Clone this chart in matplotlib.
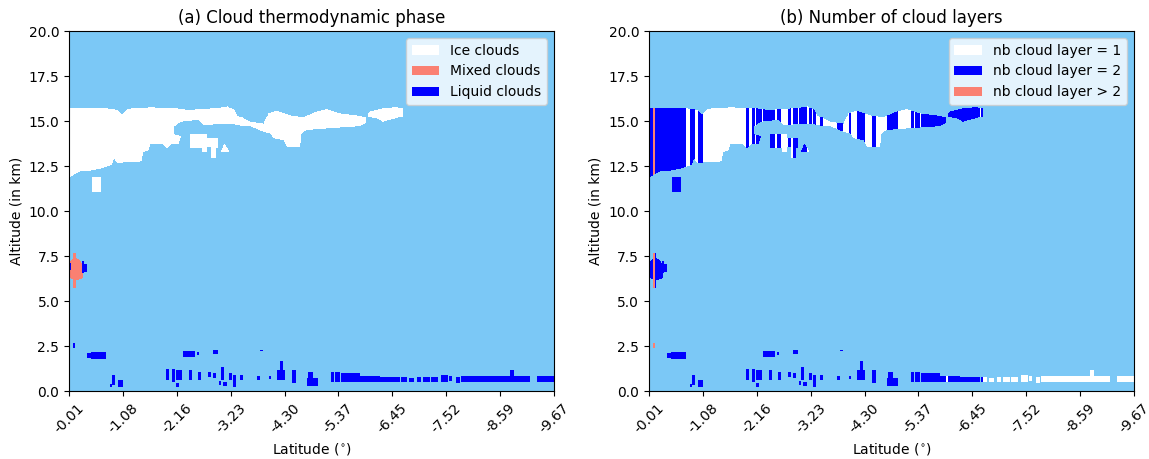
import numpy as np
import matplotlib
matplotlib.use("Agg")
from matplotlib import pyplot as plt
from matplotlib.path import Path
from matplotlib.colors import ListedColormap
from matplotlib.patches import Patch

# tick labels
lat_labels = ["-0.01", "-1.08", "-2.16", "-3.23", "-4.30",
              "-5.37", "-6.45", "-7.52", "-8.59", "-9.67"]
lat_start, lat_end = -0.01, -9.67

# ice cloud outlines, (latitude, altitude km)
ice_main = [(-0.03, 15.71), (-0.57, 15.76), (-0.97, 15.61), (-1.07, 15.39), (-1.17, 15.65),
            (-1.64, 15.79), (-2.10, 15.71), (-2.37, 15.61), (-2.76, 15.65), (-3.16, 15.83),
            (-3.30, 15.61), (-3.35, 15.33), (-3.62, 14.96), (-3.88, 14.87), (-3.98, 15.43),
            (-4.15, 15.57), (-4.41, 15.33), (-4.68, 15.24), (-4.94, 15.52), (-5.14, 15.65),
            (-5.41, 15.43), (-5.74, 15.33), (-5.93, 15.24),
            (-5.93, 14.90), (-5.74, 14.68), (-5.21, 14.59), (-4.74, 14.50), (-4.64, 14.32),
            (-4.61, 13.57), (-4.35, 13.57), (-4.28, 13.94), (-4.08, 14.04), (-4.01, 14.32),
            (-3.88, 14.41), (-3.62, 14.68), (-3.22, 14.87), (-3.03, 14.87), (-2.70, 14.78),
            (-2.57, 15.06), (-2.24, 14.96), (-2.10, 14.68), (-2.10, 14.32), (-2.25, 14.13),
            (-2.20, 13.76), (-2.04, 13.67), (-1.97, 13.48), (-1.90, 13.67), (-1.65, 13.76),
            (-1.60, 13.39), (-1.50, 13.29), (-1.46, 12.80), (-1.40, 12.74), (-0.97, 12.65),
            (-0.91, 12.93), (-0.87, 12.56), (-0.64, 12.37), (-0.24, 12.18), (-0.03, 11.91)]
ice_east = [(-5.97, 15.40), (-6.01, 15.52), (-6.20, 15.65), (-6.47, 15.79), (-6.67, 15.76),
            (-6.68, 15.24), (-6.54, 15.15), (-6.40, 15.06), (-6.27, 14.96), (-6.14, 15.15),
            (-5.97, 15.20)]
ice_blob_a = [(-2.43, 14.32), (-2.74, 14.32), (-2.74, 13.29), (-2.64, 13.29),
              (-2.64, 13.48), (-2.43, 13.48)]
ice_blob_b = [(-2.76, 14.04), (-2.96, 14.04), (-2.96, 13.48), (-2.92, 13.48),
              (-2.92, 12.93), (-2.83, 12.93), (-2.83, 13.57), (-2.76, 13.57)]
ice_blob_c = [(-3.02, 13.29), (-3.10, 13.76), (-3.20, 13.29)]
ice_blob_d = [(-0.47, 11.07), (-0.47, 11.91), (-0.64, 11.91), (-0.64, 11.07)]

mixed_cloud = [(-0.03, 7.20), (-0.09, 7.39), (-0.10, 7.67), (-0.14, 7.67), (-0.15, 7.39),
               (-0.22, 7.30), (-0.28, 7.00), (-0.28, 6.30), (-0.20, 6.17), (-0.15, 6.17),
               (-0.14, 5.72), (-0.10, 5.72), (-0.09, 6.17), (-0.03, 6.30)]

# liquid cloud pieces: (lat left, lat right, base km, top km)
liquid_boxes = [
    (-0.02, -0.05, 6.70, 7.10), (-0.27, -0.31, 6.54, 7.24), (-0.31, -0.37, 6.59, 7.06),
    (-0.08, -0.13, 2.40, 2.65), (-0.37, -0.45, 1.85, 2.10), (-0.45, -0.74, 1.78, 2.15),
    (-0.83, -0.87, 0.22, 0.40), (-0.88, -0.92, 0.35, 0.89), (-0.99, -1.09, 0.25, 0.60),
    (-2.30, -2.50, 1.90, 2.22), (-2.55, -2.59, 2.00, 2.17), (-2.86, -2.97, 2.05, 2.28),
    (-3.82, -3.86, 2.18, 2.32),
    (-1.95, -2.01, 0.61, 1.26), (-2.08, -2.12, 0.52, 1.26), (-2.14, -2.28, 0.61, 1.15),
    (-2.16, -2.20, 0.22, 0.44), (-2.40, -2.45, 0.61, 1.17), (-2.58, -2.63, 0.61, 1.07),
    (-2.77, -2.83, 0.79, 1.07), (-2.87, -2.93, 0.70, 0.98), (-2.98, -3.03, 0.33, 0.56),
    (-3.03, -3.08, 0.61, 1.35), (-3.08, -3.14, 0.29, 0.52), (-3.20, -3.24, 0.61, 1.00),
    (-3.27, -3.33, 0.24, 0.89), (-3.40, -3.46, 0.61, 0.89), (-3.75, -3.81, 0.61, 0.85),
    (-3.98, -4.03, 0.67, 0.85), (-4.16, -4.31, 0.61, 1.17), (-4.22, -4.27, 1.17, 1.63),
    (-4.46, -4.52, 0.43, 1.17), (-4.77, -4.87, 0.72, 1.06), (-4.75, -4.96, 0.30, 0.72),
    (-5.24, -5.29, 0.50, 1.05), (-5.31, -5.41, 0.50, 1.07), (-5.43, -5.50, 0.50, 1.02),
    (-5.52, -5.81, 0.48, 0.98), (-5.81, -6.20, 0.48, 0.87), (-6.20, -6.60, 0.50, 0.82),
    (-6.64, -6.74, 0.52, 0.78), (-6.80, -6.88, 0.52, 0.76), (-6.94, -7.02, 0.52, 0.78),
    (-7.08, -7.20, 0.50, 0.80), (-7.24, -7.34, 0.52, 0.80), (-7.42, -7.54, 0.48, 0.92),
    (-7.58, -7.64, 0.55, 0.85), (-7.70, -7.78, 0.45, 0.78), (-7.82, -8.80, 0.48, 0.85),
    (-8.80, -8.86, 0.48, 1.17), (-8.86, -9.19, 0.48, 0.85), (-9.33, -9.67, 0.50, 0.83),
]

sky = '#7bc8f6'

# rasterise onto a profile x altitude grid
lat_edges = np.linspace(lat_start, lat_end, 484)
alt_edges = np.linspace(0, 20, 401)
lat_c = (lat_edges[:-1] + lat_edges[1:]) / 2
alt_c = (alt_edges[:-1] + alt_edges[1:]) / 2
LAT, ALT = np.meshgrid(lat_c, alt_c)
pts = np.column_stack([LAT.ravel(), ALT.ravel()])

phase = np.zeros(LAT.shape, dtype=int)  # 0 clear, 1 ice, 2 mixed, 3 liquid


def paint_poly(verts, code):
    inside = Path(verts).contains_points(pts).reshape(LAT.shape)
    phase[inside] = code


for poly in [ice_main, ice_east, ice_blob_a, ice_blob_b, ice_blob_c, ice_blob_d]:
    paint_poly(poly, 1)
paint_poly(mixed_cloud, 2)
for l0, l1, b, t in liquid_boxes:
    phase[(LAT <= l0) & (LAT >= l1) & (ALT >= b) & (ALT <= t)] = 3

# number of layers per profile (small gaps are merged)
gap_max = int(round(1.6 / (alt_edges[1] - alt_edges[0])))
layers = np.zeros_like(phase)
for j in range(phase.shape[1]):
    rows = np.nonzero(phase[:, j])[0]
    if len(rows) == 0:
        continue
    n = 1 + np.sum(np.diff(rows) > gap_max)
    layers[rows, j] = min(n, 3)

fig = plt.figure(figsize=(11.49, 4.59), dpi=100)
ax1 = fig.add_axes([0.0601, 0.1481, 0.4221, 0.7843])
ax2 = fig.add_axes([0.5648, 0.1481, 0.4221, 0.7843])

extent = [lat_start, lat_end, 0, 20]
ax1.imshow(phase, origin='lower', extent=extent, aspect='auto', interpolation='nearest',
           cmap=ListedColormap([sky, 'white', 'salmon', 'blue']), vmin=-0.5, vmax=3.5)
ax2.imshow(layers, origin='lower', extent=extent, aspect='auto', interpolation='nearest',
           cmap=ListedColormap([sky, 'white', 'blue', 'salmon']), vmin=-0.5, vmax=3.5)

ax1.legend(handles=[Patch(facecolor='white', label='Ice clouds'),
                    Patch(facecolor='salmon', label='Mixed clouds'),
                    Patch(facecolor='blue', label='Liquid clouds')], loc='upper right')
ax2.legend(handles=[Patch(facecolor='white', label='nb cloud layer = 1'),
                    Patch(facecolor='blue', label='nb cloud layer = 2'),
                    Patch(facecolor='salmon', label='nb cloud layer > 2')], loc='upper right')

ax1.set_title("(a) Cloud thermodynamic phase")
ax2.set_title("(b) Number of cloud layers")
for ax in [ax1, ax2]:
    ax.set_xlim(lat_start, lat_end)
    ax.set_ylim(0, 20)
    ax.set_xticks(np.linspace(lat_start, lat_end, len(lat_labels)))
    ax.set_xticklabels(lat_labels, rotation=45)
    ax.set_yticks(np.arange(0, 20.1, 2.5))
    ax.set_ylabel("Altitude (in km)")
    ax.set_xlabel(r"Latitude ($^{\circ}$)")

plt.savefig("out.png", dpi=100)
